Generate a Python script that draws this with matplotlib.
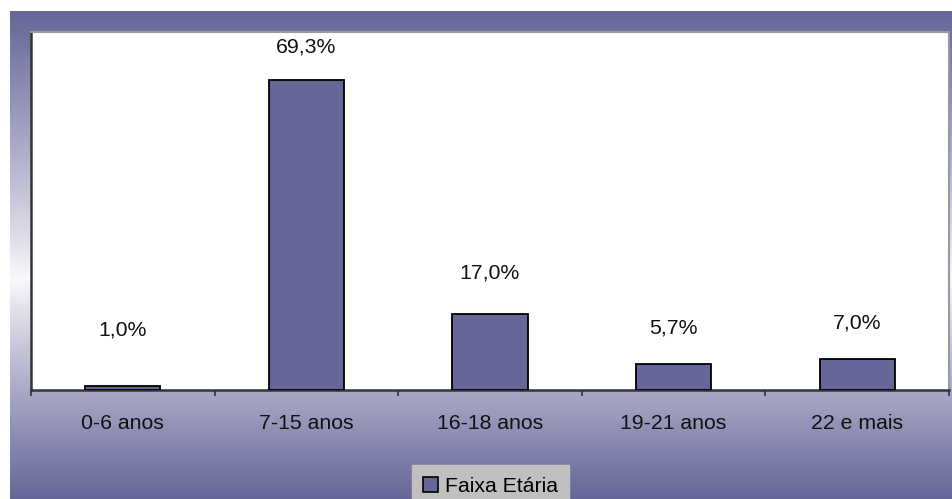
import numpy as np
import matplotlib
matplotlib.use("Agg")
import matplotlib.pyplot as plt
from matplotlib.colors import LinearSegmentedColormap
from matplotlib.patches import Patch

plt.rcParams["font.family"] = ["Liberation Sans", "DejaVu Sans"]

# Age groups and their share of the total (%)
categories = ["0-6 anos", "7-15 anos", "16-18 anos", "19-21 anos", "22 e mais"]
shares = [1.0, 69.3, 17.0, 5.7, 7.0]
series_name = "Faixa Etária"

# distance (pixels) between the top of each bar and the centre of its label
label_gap_px = [56, 33, 41, 36, 36]

W, H, DPI = 953, 499, 100
purple = "#666699"

fig = plt.figure(figsize=(W / DPI, H / DPI), dpi=DPI, facecolor="white")

# Framed background panel with a purple-white-purple vertical gradient
bg = fig.add_axes([10 / W, 0, (W - 10) / W, (H - 11) / H], zorder=0)
bg.set_axis_off()
y = np.linspace(0, 1, 600)
center = 0.55
t = np.where(y < center, (center - y) / center, (y - center) / (1 - center))
t = np.clip(t, 0, 1) ** 0.9
grad = np.tile(t[:, None], (1, 2))
cmap = LinearSegmentedColormap.from_list("panel", ["#fafafc", purple])
bg.imshow(grad, aspect="auto", cmap=cmap, vmin=0, vmax=1,
          extent=[0, 1, 1, 0], origin="upper")
bg.set_xlim(0, 1)
bg.set_ylim(1, 0)

# Plot area
left, right, top, bottom = 31, 949, 32, 390
ax = fig.add_axes([left / W, (H - bottom) / H, (right - left) / W, (bottom - top) / H],
                  zorder=1)
ax.set_facecolor("white")

x = np.arange(len(categories))
ax.bar(x, shares, width=0.41, color=purple, edgecolor="black", linewidth=1.3, zorder=3)

for xi, v, gap in zip(x, shares, label_gap_px):
    ax.annotate(f"{v:.1f}".replace(".", ",") + "%", (xi, v),
                xytext=(0, gap * 72 / DPI), textcoords="offset points",
                ha="center", va="center", fontsize=15.3, color="#111111")

ax.set_xlim(-0.5, len(categories) - 0.5)
ax.set_ylim(0, 80)
ax.set_yticks([])

# category boundaries carry the tick marks; names sit between them
ax.set_xticks(np.arange(len(categories) + 1) - 0.5)
ax.set_xticklabels([])
ax.set_xticks(x, minor=True)
ax.set_xticklabels(categories, minor=True, fontsize=15.3, color="#111111")
ax.tick_params(axis="x", which="major", direction="out", length=4, width=1.2,
               color="#333333")
ax.tick_params(axis="x", which="minor", length=0, pad=17)

for side in ("left", "bottom"):
    ax.spines[side].set_color("#333333")
    ax.spines[side].set_linewidth(1.8)
for side in ("top", "right"):
    ax.spines[side].set_color("#9a9a9a")
    ax.spines[side].set_linewidth(1.5)

handle = Patch(facecolor=purple, edgecolor="black", linewidth=1.2)
fig.legend([handle], [series_name], loc="upper center",
           bbox_to_anchor=(490.5 / W, (H - 465) / H), frameon=True,
           facecolor="#c0c0c0", edgecolor="#c0c0c0", fancybox=False,
           framealpha=1, fontsize=15.3, handlelength=0.7, handleheight=0.7,
           handletextpad=0.3, borderpad=0.55, borderaxespad=0)

fig.savefig("out.png", dpi=DPI, facecolor="white")
